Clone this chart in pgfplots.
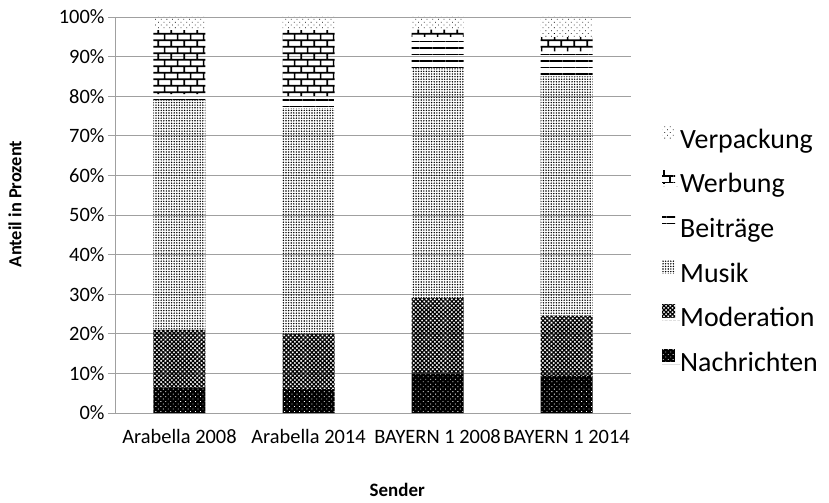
\documentclass[border=0pt]{standalone}
\usepackage{pgfplots}
\pgfplotsset{compat=1.18}
\usepackage{pgfplotstable}
\usepackage{fontspec}
\setmainfont{Carlito}
\usetikzlibrary{patterns,patterns.meta}

\pgfdeclarepatternformonly{mybricks}{\pgfpoint{0pt}{0pt}}{\pgfpoint{13pt}{13pt}}{\pgfpoint{13pt}{13pt}}{%
  \pgfsetlinewidth{1.6pt}%
  \pgfsetbuttcap
  \pgfpathmoveto{\pgfpoint{0pt}{3.25pt}}\pgfpathlineto{\pgfpoint{13pt}{3.25pt}}%
  \pgfpathmoveto{\pgfpoint{0pt}{9.75pt}}\pgfpathlineto{\pgfpoint{13pt}{9.75pt}}%
  \pgfpathmoveto{\pgfpoint{3.25pt}{3.25pt}}\pgfpathlineto{\pgfpoint{3.25pt}{9.75pt}}%
  \pgfpathmoveto{\pgfpoint{9.75pt}{9.75pt}}\pgfpathlineto{\pgfpoint{9.75pt}{13pt}}%
  \pgfpathmoveto{\pgfpoint{9.75pt}{0pt}}\pgfpathlineto{\pgfpoint{9.75pt}{3.25pt}}%
  \pgfusepath{stroke}}

\pgfplotstableread{
x Nachrichten Moderation Musik Beitraege Werbung Verpackung
0 6.3 14.7 58.0 1.5 16.2 3.3
1 6.0 14.0 57.0 3.0 16.7 3.3
2 10.0 19.0 58.0 8.0 1.8 3.2
3 9.4 15.2 60.4 6.3 3.6 5.1
}\datatable

\definecolor{gridgray}{RGB}{160,160,160}

\begin{document}
\begin{tikzpicture}
\useasboundingbox (-115bp,-90bp) rectangle (714bp,413bp);
\begin{axis}[
  at={(0,0)}, anchor=south west,
  scale only axis, width=516bp, height=396bp,
  ybar stacked, bar width=52bp,
  xmin=-0.5, xmax=3.5, ymin=0, ymax=100,
  xtick={0,1,2,3},
  xticklabels={Arabella 2008,Arabella 2014,BAYERN 1 2008,BAYERN 1 2014},
  major x tick style={draw=none},
  extra x ticks={-0.5,0.5,1.5,2.5,3.5},
  extra x tick labels={},
  extra x tick style={grid=none, major tick length=6bp, tick style={gridgray, line width=0.8pt}},
  ytick={0,10,...,100},
  yticklabel={\pgfmathprintnumber{\tick}\%},
  ymajorgrids, grid style={gridgray, line width=0.8pt},
  axis x line*=bottom, axis y line*=left,
  axis line style={gridgray, line width=0.8pt, -},
  y tick style={gridgray, line width=0.8pt},
  tick align=outside, major tick length=7bp,
  ticklabel style={font=\fontsize{20.5}{24}\selectfont},
  xticklabel style={anchor=north, inner sep=0pt, text height=15bp, text depth=5bp, yshift=-8bp},
  /pgf/number format/assume math mode=true,
  xlabel={\fontsize{19}{23}\selectfont\textbf{Sender}},
  xlabel style={at={(axis description cs:0.547,-0.194)}, anchor=center},
  ylabel={\fontsize{18.5}{22}\selectfont\textbf{Anteil in Prozent}},
  ylabel style={at={(axis description cs:-0.194,0.528)}, anchor=center},
  reverse legend,
  legend cell align=left,
  legend image code/.code={\path (0bp,0bp) -- (18bp,0bp);\draw[#1, draw=none] (0bp,2.5bp) rectangle (13bp,15.5bp);},
  legend style={draw=none, fill=none, inner sep=0pt, at={(axis description cs:1.060,0.407)}, anchor=west,
    font=\fontsize{28}{32}\selectfont, row sep=16.6bp,
    nodes={inner sep=0bp, text height=19bp, text depth=6bp}},
]
\addplot[draw=none, fill=black, postaction={pattern={Dots[distance=3.5bp, radius=0.6bp, angle=45]}, pattern color=white}] table[x=x, y=Nachrichten]{\datatable};
\addplot[draw=none, pattern={Hatch[distance=3bp, angle=45, line width=1.2bp]}, pattern color=black] table[x=x, y=Moderation]{\datatable};
\addplot[draw=none, pattern={Dots[distance=2.6bp, radius=0.8bp]}, pattern color=black] table[x=x, y=Musik]{\datatable};
\addplot[draw=none, pattern={Lines[distance=6.5bp, angle=0, line width=1.3bp]}, pattern color=black] table[x=x, y=Beitraege]{\datatable};
\addplot[draw=none, pattern=mybricks, pattern color=black] table[x=x, y=Werbung]{\datatable};
\addplot[draw=none, pattern={Dots[distance=4bp, radius=0.55bp, angle=45]}, pattern color=black] table[x=x, y=Verpackung]{\datatable};
\legend{Nachrichten,Moderation,Musik,Beiträge,Werbung,Verpackung}
\end{axis}
\end{tikzpicture}
\end{document}
